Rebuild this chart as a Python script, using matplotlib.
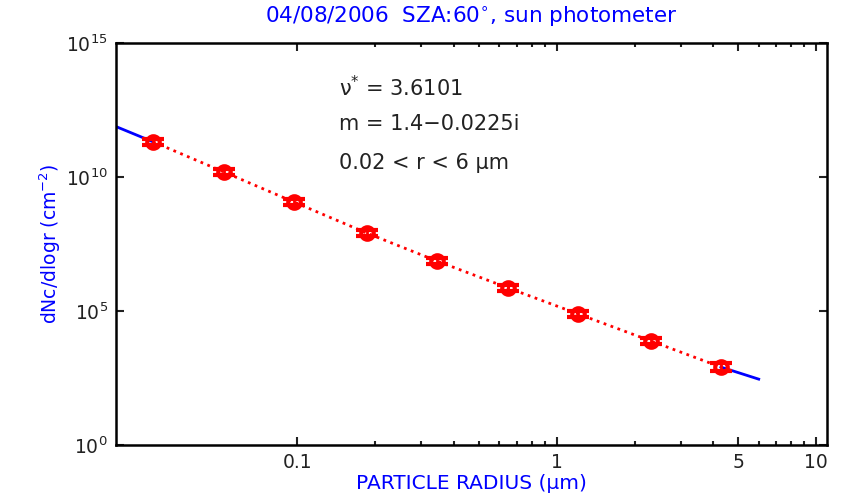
import numpy as np
import matplotlib.pyplot as plt
from matplotlib.ticker import FixedLocator, NullFormatter

plt.rcParams['font.family'] = ['DejaVu Sans']
plt.rcParams['mathtext.fontset'] = 'dejavusans'

# measured size distribution (radius in um, dNc/dlogr in cm^-2)
radius = [0.0278, 0.052, 0.0968, 0.185, 0.344, 0.65, 1.21, 2.31, 4.29]
log_dn = [11.31, 10.19, 9.07, 7.91, 6.87, 5.86, 4.89, 3.88, 2.91]
log_err = [0.12, 0.12, 0.12, 0.12, 0.12, 0.12, 0.12, 0.12, 0.15]

# fitted power law, only the extrapolated ends show
fit_left_r = [0.02, 0.0278]
fit_left_log = [11.88, 11.31]
fit_right_r = [4.29, 6.0]
fit_right_log = [2.91, 2.46]

x_major = [0.1, 1, 5, 10]
x_major_labels = ['0.1', '1', '5', '10']
x_minor = [0.2, 0.3, 0.4, 0.5, 0.6, 0.7, 0.8, 0.9, 2, 3, 4, 6, 7, 8, 9]
y_major = [1e0, 1e5, 1e10, 1e15]
y_major_labels = ['$10^{0}$', '$10^{5}$', '$10^{10}$', '$10^{15}$']

dn = 10 ** np.array(log_dn)
err_lo = dn - 10 ** (np.array(log_dn) - np.array(log_err))
err_hi = 10 ** (np.array(log_dn) + np.array(log_err)) - dn

fig = plt.figure(figsize=(8.42, 4.99), dpi=100)
ax = fig.add_axes([0.1378, 0.108, 0.8444, 0.806])

ax.plot(fit_left_r, 10 ** np.array(fit_left_log), color='blue', lw=2)
ax.plot(fit_right_r, 10 ** np.array(fit_right_log), color='blue', lw=2)
ax.plot(radius, dn, color='red', ls=':', lw=2)
ax.errorbar(radius, dn, yerr=[err_lo, err_hi], fmt='o', color='red',
            mfc='none', mec='red', mew=3, ms=9, capsize=8, capthick=2.5,
            elinewidth=2, zorder=3)

ax.set_xscale('log')
ax.set_yscale('log')
ax.set_xlim(0.02, 11)
ax.set_ylim(1, 1e15)

ax.xaxis.set_major_locator(FixedLocator(x_major))
ax.set_xticklabels(x_major_labels)
ax.xaxis.set_minor_locator(FixedLocator(x_minor))
ax.xaxis.set_minor_formatter(NullFormatter())
ax.yaxis.set_major_locator(FixedLocator(y_major))
ax.set_yticklabels(y_major_labels)
ax.yaxis.set_minor_locator(FixedLocator([]))

ax.tick_params(which='both', direction='in', top=True, right=True,
               labelsize=13.5, width=1.5, colors='#222222')
ax.tick_params(which='major', length=6, pad=6)
ax.tick_params(which='minor', length=3)
for s in ax.spines.values():
    s.set_linewidth(1.8)

ax.set_title('04/08/2006  SZA:60$^{\\circ}$, sun photometer', color='blue',
             fontsize=15.5, pad=14)
ax.set_xlabel('PARTICLE RADIUS (\u03bcm)', color='blue', fontsize=14.5, labelpad=1)
ax.set_ylabel('dNc/dlogr (cm$^{-2}$)', color='blue', fontsize=13.5, labelpad=2)

ax.text(0.313, 0.888, '\u03bd$^{*}$ = 3.6101', transform=ax.transAxes,
        fontsize=15, va='center', color='#222222')
ax.text(0.313, 0.799, 'm = 1.4\u22120.0225i', transform=ax.transAxes,
        fontsize=15, va='center', color='#222222')
ax.text(0.313, 0.701, '0.02 < r < 6 \u03bcm', transform=ax.transAxes,
        fontsize=15, va='center', color='#222222')

fig.savefig('out.png', dpi=100)
